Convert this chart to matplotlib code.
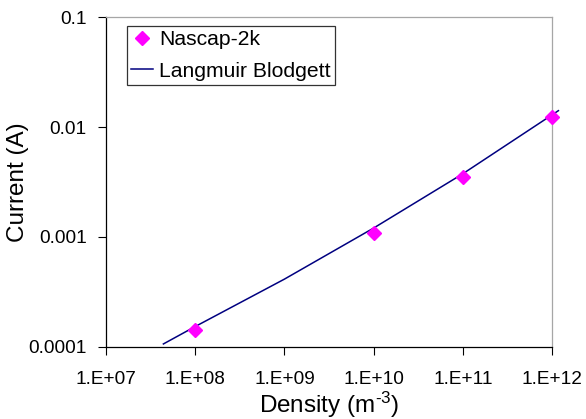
import numpy as np
import matplotlib
matplotlib.use("Agg")
import matplotlib.pyplot as plt

# Data
nascap_density = [1e8, 1e10, 1e11, 1e12]
nascap_current = [1.41e-4, 1.08e-3, 3.53e-3, 1.245e-2]

lb_density = [4.4e7, 1e8, 1e9, 1e10, 1e11, 1e12, 1.18e12]
lb_current = [1.055e-4, 1.52e-4, 4.11e-4, 1.2e-3, 3.75e-3, 1.29e-2, 1.41e-2]

x_ticks = [1e7, 1e8, 1e9, 1e10, 1e11, 1e12]
x_ticklabels = ["1.E+07", "1.E+08", "1.E+09", "1.E+10", "1.E+11", "1.E+12"]
y_ticks = [1e-4, 1e-3, 1e-2, 1e-1]
y_ticklabels = ["0.0001", "0.001", "0.01", "0.1"]

plt.rcParams['font.family'] = ['Liberation Sans', 'DejaVu Sans']
plt.rcParams['mathtext.fontset'] = 'custom'
plt.rcParams['mathtext.rm'] = 'Liberation Sans'
plt.rcParams['mathtext.default'] = 'regular'

fig = plt.figure(figsize=(5.86, 4.19), dpi=100)
ax = fig.add_axes([106/586, 1-346.5/419, 446/586, 329.2/419])

ax.plot(lb_density, lb_current, color='#000080', lw=1.1, clip_on=False,
        label='Langmuir Blodgett', zorder=2)
ax.plot(nascap_density, nascap_current, linestyle='none', marker='D',
        color='#FF00FF', markersize=7, clip_on=False, label='Nascap-2k', zorder=3)

ax.set_xscale('log')
ax.set_yscale('log')
ax.set_xlim(1e7, 1e12)
ax.set_ylim(1e-4, 1e-1)
ax.set_xticks(x_ticks)
ax.set_xticklabels(x_ticklabels)
ax.set_yticks(y_ticks)
ax.set_yticklabels(y_ticklabels)
ax.minorticks_off()
ax.tick_params(axis='x', direction='out', length=5.5, width=0.8, pad=12, labelsize=13.7)
ax.tick_params(axis='y', direction='out', length=5.5, width=0.8, pad=8.5, labelsize=13.7)

for s in ['left', 'bottom']:
    ax.spines[s].set_color('black')
    ax.spines[s].set_linewidth(0.9)
for s in ['top', 'right']:
    ax.spines[s].set_color('#a6a6a6')
    ax.spines[s].set_linewidth(0.9)

ax.set_xlabel('Density (m$^{\u20103}$)', fontsize=17.5)
ax.xaxis.set_label_coords(0.5, -0.133)
ax.set_ylabel('Current (A)', fontsize=17.5)
ax.yaxis.set_label_coords(-0.173, 0.5)

handles, labels = ax.get_legend_handles_labels()
leg = ax.legend(handles[::-1], labels[::-1], loc='upper left',
                bbox_to_anchor=((126.7-106)/446, 1-(25.7-17.3)/329.2),
                borderaxespad=0, fontsize=15.2, frameon=True, fancybox=False,
                edgecolor='black', handlelength=1.05, handletextpad=0.3,
                borderpad=0.2, labelspacing=0.6, numpoints=1)
leg.get_frame().set_linewidth(0.9)

fig.savefig('out.png', dpi=100, facecolor='white')
